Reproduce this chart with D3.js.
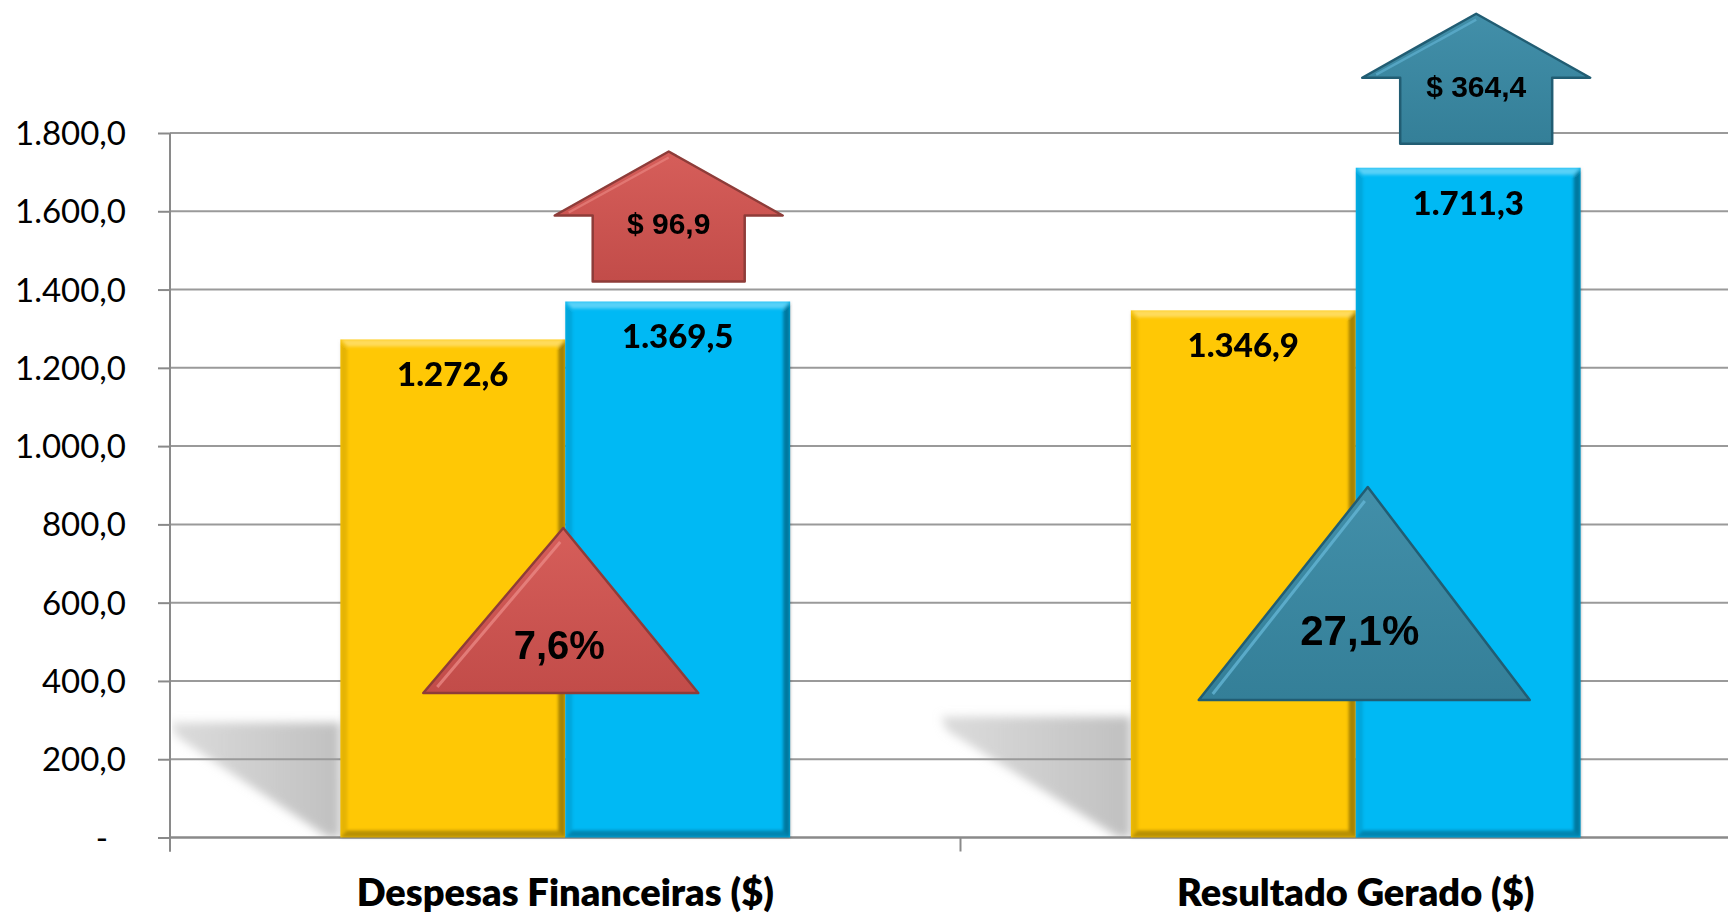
<!DOCTYPE html>
<html><head><meta charset="utf-8">
<script src="https://cdn.jsdelivr.net/npm/d3@7"></script>
<style>body{margin:0;background:#fff;overflow:hidden}svg{display:block}</style>
</head><body><svg id="c" width="1728" height="913"></svg>
<script>
// ---- data ----
const categories = ["Despesas Financeiras ($)", "Resultado Gerado ($)"];
const series = ["Anterior", "Atual"];
const valuesPrev = [1272.6, 1346.9];
const valuesCurr = [1369.5, 1711.3];
const yTicks = [0, 200, 400, 600, 800, 1000, 1200, 1400, 1600, 1800];

// ---- layout / style ----
const W = 1728, H = 913;
const plotLeft = 170, plotRight = 1751, plotTop = 133, plotBottom = 837.5;
const barColors = ["#FFC805", "#00B9F4"];
const annColors = [
  {fill:"#CC5450", top:"#D65E5A", bot:"#C24C49", stroke:"#8E3C39", hi:"#EC8A86"},
  {fill:"#3A87A1", top:"#428FA9", bot:"#347F98", stroke:"#215D73", hi:"#66B8D8"}
];
const arrowLayout = [{dx:-9, gap:20}, {dx:8, gap:24}];
const triLayout = [
  {apexDx:-2, leftDx:-142, rightDx:133, apexY:528, baseY:693, textDx:-6, textY:659, size:40},
  {apexDx:12, leftDx:-157, rightDx:174, apexY:487, baseY:700, textDx:4, textY:645, size:42}
];
const shadowLayout = [{w:170, h:115}, {w:190, h:121}];

const loc = d3.formatLocale({decimal:",", thousands:".", grouping:[3], currency:["$",""]});
const fmt = loc.format(",.1f");
const pfmt = loc.format(".1%");

const svg = d3.select("#c");
const defs = svg.append("defs");

const x0 = d3.scaleBand().domain(categories).range([plotLeft, plotRight])
  .paddingInner(0.431).paddingOuter(0.2155);
const x1 = d3.scaleBand().domain(series).range([0, x0.bandwidth()]);
const y = d3.scaleLinear().domain([0, 1800]).range([plotBottom, plotTop]);

const sg = defs.append("linearGradient").attr("id","shadowGrad").attr("x1","0").attr("x2","1");
sg.append("stop").attr("offset","0").attr("stop-color","#c4c4c4").attr("stop-opacity",0.6);
sg.append("stop").attr("offset","1").attr("stop-color","#c0c0c0").attr("stop-opacity",1);
defs.append("filter").attr("id","blur").attr("x","-20%").attr("y","-20%").attr("width","140%").attr("height","140%")
  .append("feGaussianBlur").attr("stdDeviation",5);
defs.append("filter").attr("id","soft").attr("x","-10%").attr("y","-10%").attr("width","120%").attr("height","120%")
  .append("feGaussianBlur").attr("stdDeviation",1.5);
defs.append("clipPath").attr("id","plotClip").append("rect")
  .attr("x",plotLeft+2).attr("y",0).attr("width",W).attr("height",plotBottom);
annColors.forEach((c,i)=>{
  const g = defs.append("linearGradient").attr("id","ann"+i).attr("x1","0").attr("x2","0").attr("y1","0").attr("y2","1");
  g.append("stop").attr("offset","0").attr("stop-color",c.top);
  g.append("stop").attr("offset","1").attr("stop-color",c.bot);
});

// shadows
const shadowG = svg.append("g").attr("clip-path","url(#plotClip)");
categories.forEach((c,i)=>{
  const bx = x0(c) + x1(series[0]);
  const s = shadowLayout[i];
  const y0 = y(0);
  shadowG.append("path")
    .attr("d", `M${bx-s.w},${y0-s.h} L${bx},${y0-s.h} L${bx},${y0} L${bx-12},${y0} L${bx-s.w+6},${y0-s.h+14} Z`)
    .attr("fill","url(#shadowGrad)").attr("filter","url(#blur)");
});

// gridlines
svg.append("g").selectAll("line").data(yTicks.filter(d=>d>0)).join("line")
  .attr("x1", plotLeft).attr("x2", W).attr("y1", d=>y(d)).attr("y2", d=>y(d))
  .attr("stroke","#9a9a9a").attr("stroke-width",2);

// y axis
const yAxis = svg.append("g").attr("transform",`translate(${plotLeft},0)`)
  .call(d3.axisLeft(y).tickValues(yTicks).tickSize(12).tickPadding(32)
    .tickFormat(d => d === 0 ? "-" : fmt(d)));
yAxis.select(".domain").remove();
yAxis.selectAll(".tick line").attr("stroke","#8a8a8a").attr("stroke-width",2);
yAxis.selectAll(".tick text").attr("font-family","Lato, 'Open Sans', sans-serif")
  .attr("font-size",33).attr("fill","#000").attr("dy","0.35em")
  .attr("dx", d => d === 0 ? -18 : 0);
svg.append("line").attr("x1",plotLeft).attr("x2",plotLeft).attr("y1",y(1800)).attr("y2",plotBottom+14)
  .attr("stroke","#8a8a8a").attr("stroke-width",2);

// x axis
svg.append("line").attr("x1",plotLeft).attr("x2",W).attr("y1",y(0)).attr("y2",y(0))
  .attr("stroke","#8a8a8a").attr("stroke-width",2.5);
const bounds = d3.range(categories.length+1).map(i => x0.range()[0] + i*x0.step());
svg.append("g").selectAll("line").data(bounds).join("line")
  .attr("x1",d=>d).attr("x2",d=>d).attr("y1",y(0)).attr("y2",y(0)+14)
  .attr("stroke","#8a8a8a").attr("stroke-width",2);
svg.append("g").selectAll("text").data(categories).join("text")
  .attr("x", d => x0(d) + x0.bandwidth()/2).attr("y", 906)
  .attr("text-anchor","middle").attr("font-family","Lato, 'Open Sans', sans-serif")
  .attr("font-weight",800).attr("font-size",38).attr("fill","#000").text(d=>d);

// bars with bevel
const barData = [];
categories.forEach((c,i)=>{
  barData.push({cat:c, s:series[0], v:valuesPrev[i], color:barColors[0]});
  barData.push({cat:c, s:series[1], v:valuesCurr[i], color:barColors[1]});
});
const bars = svg.append("g").selectAll("g").data(barData).join("g");
bars.each(function(d){
  const g = d3.select(this);
  const bx = x0(d.cat) + x1(d.s), bw = x1.bandwidth();
  const by = y(d.v), bh = y(0) - y(d.v);
  const e = 7;
  g.append("rect").attr("x",bx).attr("y",by).attr("width",bw).attr("height",bh).attr("fill",d.color);
  const bev = g.append("g").attr("filter","url(#soft)");
  bev.append("path").attr("d",`M${bx},${by} L${bx+bw},${by} L${bx+bw-e},${by+e} L${bx+e},${by+e} Z`)
    .attr("fill","#fff").attr("opacity",0.35);
  bev.append("path").attr("d",`M${bx},${by} L${bx+e},${by+e} L${bx+e},${by+bh-e} L${bx},${by+bh} Z`)
    .attr("fill","#000").attr("opacity",0.1);
  bev.append("path").attr("d",`M${bx+bw},${by} L${bx+bw},${by+bh} L${bx+bw-e},${by+bh-e} L${bx+bw-e},${by+e} Z`)
    .attr("fill","#000").attr("opacity",0.35);
  bev.append("path").attr("d",`M${bx},${by+bh} L${bx+bw},${by+bh} L${bx+bw-e},${by+bh-e} L${bx+e},${by+bh-e} Z`)
    .attr("fill","#000").attr("opacity",0.28);
  g.append("text").attr("x", bx + bw/2).attr("y", by + 47)
    .attr("text-anchor","middle").attr("font-family","Lato, 'Open Sans', sans-serif")
    .attr("font-weight",900).attr("font-size",33).attr("fill","#000").text(fmt(d.v));
});

// triangles (percentage change)
categories.forEach((c,i)=>{
  const seam = x0(c) + x1(series[1]);
  const t = triLayout[i], col = annColors[i];
  const ax = seam + t.apexDx, lx = seam + t.leftDx, rx = seam + t.rightDx;
  svg.append("path").attr("d",`M${ax},${t.apexY} L${rx},${t.baseY} L${lx},${t.baseY} Z`)
    .attr("fill",`url(#ann${i})`).attr("stroke",col.stroke).attr("stroke-width",2.5).attr("stroke-linejoin","round");
  svg.append("line").attr("x1",ax - 3).attr("y1",t.apexY+14)
    .attr("x2",lx+14).attr("y2",t.baseY-6)
    .attr("stroke",col.hi).attr("stroke-width",3).attr("opacity",0.75);
  svg.append("text").attr("x", seam + t.textDx).attr("y", t.textY)
    .attr("text-anchor","middle").attr("font-family","'Liberation Sans', Arial, sans-serif")
    .attr("font-weight","bold").attr("font-size",t.size).attr("fill","#000")
    .text(pfmt(valuesCurr[i]/valuesPrev[i]-1));
});

// arrows (absolute change)
categories.forEach((c,i)=>{
  const bx = x0(c) + x1(series[1]) + x1.bandwidth()/2 + arrowLayout[i].dx;
  const yb = y(valuesCurr[i]) - arrowLayout[i].gap;
  const sw = 76, hw = 114, sh = 66, hh = 64;
  const col = annColors[i];
  svg.append("path")
    .attr("d",`M${bx-sw},${yb} L${bx-sw},${yb-sh} L${bx-hw},${yb-sh} L${bx},${yb-sh-hh} L${bx+hw},${yb-sh} L${bx+sw},${yb-sh} L${bx+sw},${yb} Z`)
    .attr("fill",`url(#ann${i})`).attr("stroke",col.stroke).attr("stroke-width",2.5).attr("stroke-linejoin","round");
  svg.append("path")
    .attr("d",`M${bx-hw+14},${yb-sh-3} L${bx},${yb-sh-hh+6}`)
    .attr("stroke",col.hi).attr("stroke-width",2.5).attr("opacity",0.6).attr("fill","none");
  svg.append("text").attr("x", bx).attr("y", yb - sh + 19)
    .attr("text-anchor","middle").attr("font-family","'Liberation Sans', Arial, sans-serif")
    .attr("font-weight","bold").attr("font-size",30).attr("fill","#000")
    .text("$ " + fmt(valuesCurr[i] - valuesPrev[i]));
});
</script>
</body></html>
